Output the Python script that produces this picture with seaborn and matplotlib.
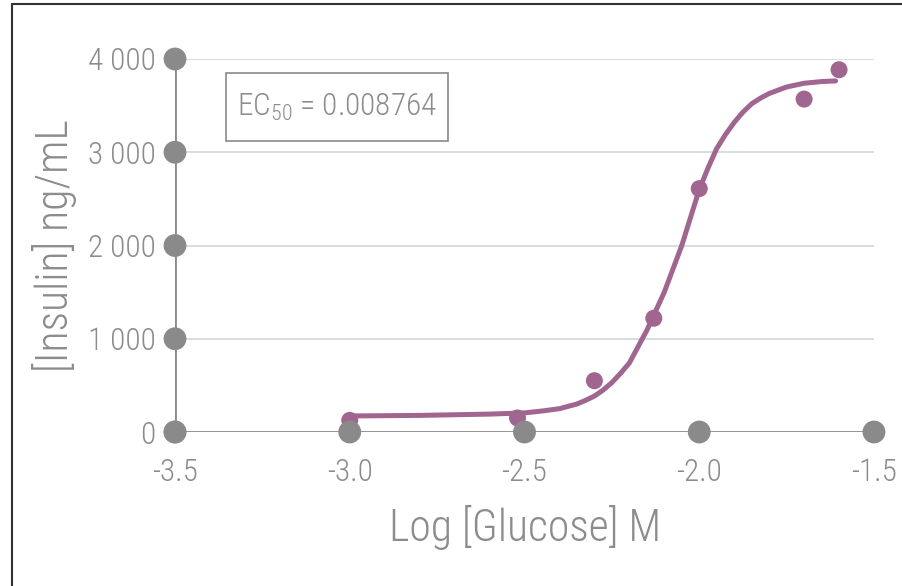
import matplotlib
matplotlib.use("Agg")
import matplotlib.pyplot as plt
from matplotlib.lines import Line2D
from matplotlib.patches import Rectangle
import seaborn as sns
import pandas as pd

# ---- data ----
log_glucose = [-3.00, -2.52, -2.30, -2.13, -2.00, -1.70, -1.60]
insulin = [125, 150, 550, 1220, 2610, 3570, 3885]

fit_x = [-3.00, -2.80, -2.60, -2.50, -2.45, -2.40, -2.35, -2.325, -2.30, -2.275,
         -2.25, -2.225, -2.20, -2.15, -2.10, -2.05, -2.00, -1.975, -1.95, -1.925,
         -1.90, -1.875, -1.85, -1.825, -1.80, -1.75, -1.70, -1.65, -1.61]
fit_y = [172, 178, 192, 205, 225, 250, 300, 340, 385, 450,
         530, 630, 740, 1090, 1500, 2000, 2600, 2830, 3040, 3190,
         3320, 3430, 3520, 3580, 3630, 3700, 3740, 3758, 3765]

x_ticks = [-3.5, -3.0, -2.5, -2.0, -1.5]
x_tick_labels = ["-3.5", "-3.0", "-2.5", "-2.0", "-1.5"]
y_ticks = [0, 1000, 2000, 3000, 4000]
y_tick_labels = ["0", "1 000", "2 000", "3 000", "4 000"]
ec50_text = "0.008764"

# ---- style ----
sns.set_theme(style="white")
FAMS = ["Roboto Condensed", "Barlow Condensed", "Fira Sans Condensed",
        "Archivo Narrow", "PT Sans Narrow", "Liberation Sans Narrow", "DejaVu Sans"]
plt.rcParams["font.family"] = FAMS
plt.rcParams["font.weight"] = 300
TXT = "#8c8c8c"
AX = "#8a8a8a"
PURPLE = "#a0668f"
GRID = "#d3dadd"

fig = plt.figure(figsize=(9.03, 5.86), dpi=100)
ax = fig.add_axes([175 / 903, 1 - 432 / 586, (874 - 175) / 903, (432 - 59) / 586])
ax.set_xlim(-3.5, -1.5)
ax.set_ylim(0, 4000)

for s in ax.spines.values():
    s.set_visible(False)

# gridlines
for yv in y_ticks[1:]:
    ax.axhline(yv, color=GRID, lw=1.3, zorder=0)
# axis lines
ax.axhline(0, color=AX, lw=2, zorder=1)
ax.axvline(-3.5, color=AX, lw=2, zorder=1)

# tick markers (circles)
sns.scatterplot(x=x_ticks, y=[0] * len(x_ticks), ax=ax, s=270, color=AX,
                edgecolor="none", zorder=4, clip_on=False, legend=False)
sns.scatterplot(x=[-3.5] * len(y_ticks), y=y_ticks, ax=ax, s=270, color=AX,
                edgecolor="none", zorder=4, clip_on=False, legend=False)

# fitted curve and data points
fit_df = pd.DataFrame({"x": fit_x, "y": fit_y})
sns.lineplot(data=fit_df, x="x", y="y", ax=ax, color=PURPLE, lw=3.6,
             zorder=3, sort=True, solid_capstyle="round", solid_joinstyle="round")
pts = pd.DataFrame({"x": log_glucose, "y": insulin})
sns.scatterplot(data=pts, x="x", y="y", ax=ax, s=150, color=PURPLE,
                edgecolor="none", zorder=3, clip_on=False, legend=False)

ax.set_xticks(x_ticks)
ax.set_xticklabels(x_tick_labels)
ax.set_yticks(y_ticks)
ax.set_yticklabels(y_tick_labels)
ax.tick_params(axis="both", length=0, labelsize=22.5, labelcolor=TXT)
ax.tick_params(axis="x", pad=19)
ax.tick_params(axis="y", pad=14)
for lab in ax.get_xticklabels() + ax.get_yticklabels():
    lab.set_fontweight(300)

ax.set_xlabel("Log [Glucose] M", fontsize=31.5, color=TXT, fontweight=300, va="center")
ax.xaxis.set_label_coords(0.5007, -0.257)
ax.set_ylabel("[Insulin] ng/mL", fontsize=31.5, color=TXT, fontweight=300, va="center")
ax.yaxis.set_label_coords(-0.172, 0.499)

# EC50 box
ax.add_patch(Rectangle((51 / 699, 291 / 373), 222 / 699, 68 / 373,
                       transform=ax.transAxes, fill=True, fc="white",
                       ec="#8a8a8a", lw=1.2, zorder=5))
ax.text(0.232, 0.871, r"EC$_{\mathregular{50}}$ = " + ec50_text, transform=ax.transAxes,
        fontsize=22.5, color=TXT, ha="center", va="center", fontweight=300, zorder=6)

# figure frame (top and left)
fig.add_artist(Line2D([12 / 903, 1], [1 - 4 / 586, 1 - 4 / 586],
                      transform=fig.transFigure, color="#333333", lw=1.5))
fig.add_artist(Line2D([12 / 903, 12 / 903], [0, 1 - 4 / 586],
                      transform=fig.transFigure, color="#333333", lw=1.5))

fig.savefig("out.png", dpi=100)
